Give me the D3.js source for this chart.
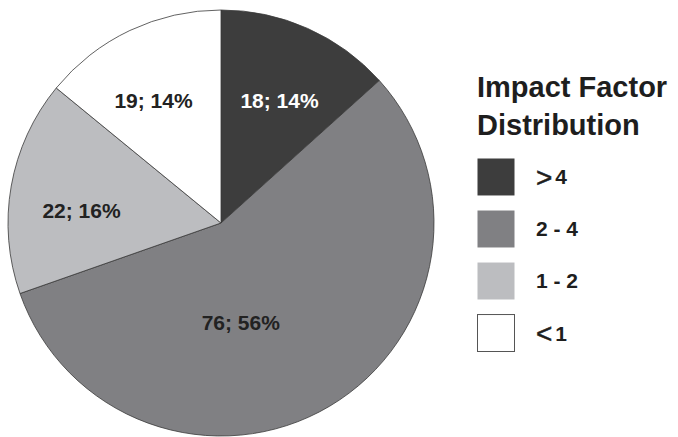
<!DOCTYPE html>
<html><head><meta charset="utf-8">
<script src="https://cdn.jsdelivr.net/npm/d3@7"></script>
<style>body{margin:0;background:#fff}svg{display:block}text{font-family:"Liberation Sans",Arial,Helvetica,sans-serif}</style>
</head><body>
<svg id="chart" width="678" height="437"></svg>
<script>
const categories = ["> 4", "2 - 4", "1 - 2", "< 1"];
const counts = [18, 76, 22, 19];
const percents = ["14%", "56%", "16%", "14%"];
const colors = ["#3d3d3d", "#808083", "#bcbdc0", "#ffffff"];
const labelColors = ["#ffffff", "#222222", "#222222", "#222222"];
const title = ["Impact Factor", "Distribution"];

const svg = d3.select("#chart");
const cx = 221, cy = 223, R = 213;
const g = svg.append("g").attr("transform", `translate(${cx},${cy})`);
const pie = d3.pie().sort(null).value(d => d)(counts);
const arc = d3.arc().innerRadius(0).outerRadius(R);
g.selectAll("path").data(pie).join("path")
  .attr("d", arc).attr("fill", (d,i) => colors[i])
  .attr("stroke", "#3a3a3a").attr("stroke-width", 0.8);

// label layout (radius, angular offset in degrees)
const labelLayout = [[136, 1.5], [102, 19.5], [140, -5], [140, -3.5]];
g.selectAll("text.lab").data(pie).join("text").attr("class","lab")
  .each(function(d,i){
    const mid = (d.startAngle + d.endAngle)/2 + labelLayout[i][1]*Math.PI/180;
    const [x,y] = d3.pointRadial(mid, labelLayout[i][0]);
    d3.select(this).attr("x", x).attr("y", y);
  })
  .attr("text-anchor","middle").attr("dy","0.35em")
  .attr("font-size", 21).attr("font-weight","bold")
  .attr("fill", (d,i) => labelColors[i])
  .text((d,i) => `${counts[i]}; ${percents[i]}`);

// legend
const lg = svg.append("g");
lg.selectAll("text.title").data(title).join("text").attr("class","title")
  .attr("x", 477).attr("y", (d,i) => 97 + i*38)
  .attr("font-size", 29).attr("font-weight","bold").attr("fill","#1e1e1e")
  .text(d => d);
const ly = d3.scaleBand().domain(categories).range([158, 352]).paddingInner(0.27).paddingOuter(0);
const items = lg.selectAll("g.item").data(categories).join("g").attr("class","item")
  .attr("transform", d => `translate(477,${ly(d)})`);
items.append("rect").attr("x",0.5).attr("y",0.5).attr("width",37).attr("height",ly.bandwidth()-1)
  .attr("fill", (d,i) => colors[i]).attr("stroke", (d,i) => i===3 ? "#555" : "none").attr("stroke-width",1);
items.append("text").attr("x", 59).attr("y", ly.bandwidth()/2 + 7.5)
  .attr("font-size", 21).attr("font-weight","bold").attr("fill","#1e1e1e")
  .each(function(d){
    const t = d3.select(this);
    if (d[0] === ">" || d[0] === "<") {
      t.append("tspan").attr("font-weight","normal").attr("font-size",28).attr("dy",2.5)
        .attr("stroke","#1e1e1e").attr("stroke-width",0.5).text(d[0]);
      t.append("tspan").attr("dx", 3).attr("dy",-2.5).text(d.slice(2));
    } else t.text(d);
  });
</script>
</body></html>
